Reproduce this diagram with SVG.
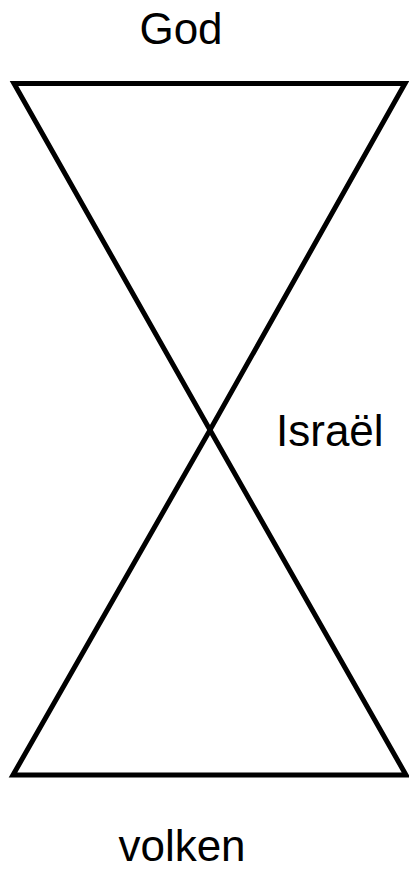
<svg xmlns="http://www.w3.org/2000/svg" width="409" height="873" viewBox="0 0 409 873">
<style>
.ln{fill:none;stroke:#000;stroke-width:5;stroke-linejoin:miter;stroke-linecap:butt}
.lbl{font-family:"Liberation Sans",Arial,sans-serif;font-size:44px;fill:#000}
</style>
<rect width="409" height="873" fill="#fff"/>
<g id="connectors">
<polygon class="ln" points="14,83.5 405,83.5 210,430"/>
<polygon class="ln" points="210,430 406,775 13,775"/>
</g>
<g id="god"><text class="lbl" x="181" y="44" text-anchor="middle">God</text></g>
<g id="israel"><text class="lbl" x="276" y="446">Israël</text></g>
<g id="volken"><text class="lbl" x="182" y="861" text-anchor="middle">volken</text></g>
</svg>
